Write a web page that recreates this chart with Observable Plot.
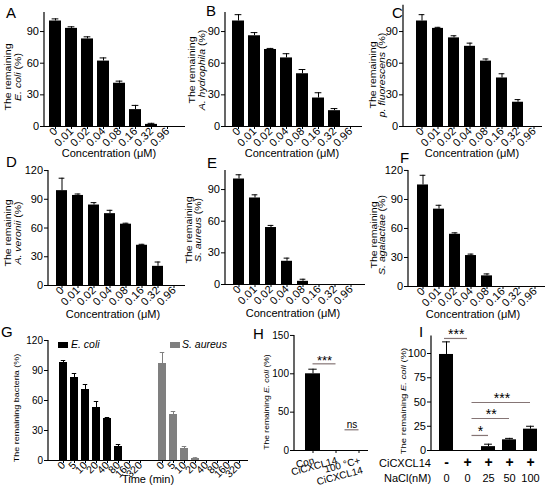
<!DOCTYPE html>
<html><head><meta charset="utf-8">
<script src="https://cdn.jsdelivr.net/npm/d3@7"></script>
<script src="https://cdn.jsdelivr.net/npm/@observablehq/plot@0.6"></script>
<style>
body{margin:0;background:#fff;}
#fig{position:relative;width:550px;height:498px;overflow:hidden;background:#fff;}
#fig svg{position:absolute;}
</style></head><body><div id="fig"></div>
<script>
// ---------- data ----------
const concentrations = ["0","0.01","0.02","0.04","0.08","0.16","0.32","0.96"];
const ecoliMean = [100,93,83,62,41,16,2,0];
const ecoliErr = [2,1.5,2,3,2,4,1,0];
const hydrophilaMean = [100,86,73,65,50,27,15,0];
const hydrophilaErr = [6,3,1,4,4,5,2,0];
const fluorescensMean = [100,93,84,76,62,46,23,0];
const fluorescensErr = [6,1,2,3,2,4,2.5,0];
const veroniiMean = [99,94,84,75,64,42,20,0];
const veroniiErr = [13,1.5,2.5,3.5,1,1,4.5,0];
const aureusMean = [100,82,54,22,3,0,0,0];
const aureusErr = [4,3,2,3,2,0,0,0];
const agalactiaeMean = [105,80,54,32,11,0,0,0];
const agalactiaeErr = [10,4,1.5,1.5,2,0,0,0];
const times = ["0","5","10","20","40","80","160","320"];
const timeEcoliMean = [98,83,71,53,42,14,0,0];
const timeEcoliErr = [2,4,5,6,1,2,0,0];
const timeAureusMean = [97,46,12,2,0,0,0,0];
const timeAureusErr = [11,3,2,0.8,0,0,0,0];
const heatGroups = ["Con","CiCXCL14","100 °C+\nCiCXCL14"];
const heatMean = [100,0,0];
const heatErr = [6,0,0];
const heatSig = [{a:0,b:1,y:113,label:"***"},{a:1,b:2,y:27,label:"ns"}];
const naclCiCXCL14 = ["-","+","+","+","+"];
const naclConc = ["0","0","25","50","100"];
const naclMean = [99,0,4,11,22];
const naclErr = [13,0,2.5,1.5,3];
const naclSig = [{a:0,b:1,y:115.5,label:"***"},{a:1,b:2,y:15.5,label:"*"},{a:1,b:3,y:33,label:"**"},{a:1,b:4,y:49.5,label:"***"}];

// ---------- helpers ----------
const NARROW = '"Liberation Sans Narrow","Liberation Sans",Arial,sans-serif';
const SANS = '"Liberation Sans",Arial,sans-serif';
const fig = document.getElementById("fig");

function sigMarks(cats, sig, offs, step, bw, fs) {
  return sig.flatMap((s, j) => {
    const off = offs[j];
    const dx = ((s.b - s.a) * step + off) / 2;
    return [
      Plot.ruleY([s], {x1: d => cats[d.a], x2: d => cats[d.b], y: "y", stroke: "#857575", strokeWidth: 1.2,
        insetLeft: bw / 2 + off, insetRight: bw / 2}),
      Plot.text([s], {x: d => cats[d.a], y: "y", text: "label", dx, dy: s.label === "ns" ? -2 : 1,
        lineAnchor: "bottom", fontSize: s.label === "ns" ? 10 : fs, fill: "black", fontFamily: NARROW})
    ];
  });
}

function panel(p) {
  const n = p.cats.length;
  const step = (p.lastC - p.firstC) / (n - 1);
  const pin = 1 - p.barW / step;
  const rows = p.cats.map((c, i) => ({c, v: p.mean[i], e: p.err[i], f: p.fill ? p.fill[i] : "black"}));
  const rowsB = rows.filter(d => d.v > 0);
  const rowsE = rows.filter(d => d.e > 0);
  const ml = p.x0 - p.left, mr = p.left + p.width - p.x1;
  const mt = p.yBase - p.yMax * p.k - p.top, mb = p.top + p.height - p.yBase;
  const cap = p.barW * 0.22;
  const marks = [
    Plot.barY(rowsB, {x: "c", y: "v", fill: "f"}),
    Plot.ruleX(rowsE, {x: "c", y1: "v", y2: d => d.v + d.e, stroke: "f", strokeWidth: 1}),
    Plot.tickY(rowsE, {x: "c", y: d => d.v + d.e, stroke: "f", strokeWidth: 1, insetLeft: cap, insetRight: cap}),
    Plot.ruleY([0], {stroke: "black", strokeWidth: 1.2}),
    Plot.axisY({ticks: p.yTicks, tickSize: 4, tickPadding: 1.5, fontSize: p.yFont, tickFormat: d => String(d),
      fontFamily: NARROW, label: null})
  ];
  if (p.xAxes) marks.push(...p.xAxes);
  else marks.push(Plot.axisX({ticks: p.xTicks || p.cats, tickSize: p.xTickSize ?? 3, tickPadding: p.xPad ?? 0,
    tickRotate: p.rot, fontSize: p.xFont, tickFormat: p.xFormat || (d => d), fontFamily: p.xFamily || SANS, label: null,
    ...(p.xLineAnchor ? {lineAnchor: p.xLineAnchor} : {})}));
  if (p.extra) marks.push(...p.extra(step, p.barW));
  const plot = Plot.plot({
    width: p.width, height: p.height,
    marginLeft: ml, marginRight: mr, marginTop: mt, marginBottom: mb,
    x: {type: "band", domain: p.cats, range: [p.firstC - p.left - step / 2, p.lastC - p.left + step / 2],
        paddingInner: pin, paddingOuter: pin / 2, align: 0.5, label: null},
    y: {domain: [0, p.yMax], range: [p.yBase - p.top, p.yBase - p.top - p.yMax * p.k], label: null},
    color: {type: "identity"},
    style: {fontFamily: NARROW, fontSize: "11px", color: "black", background: "none", overflow: "visible", maxWidth: "none"},
    marks
  });
  d3.select(plot).append("line").attr("x1", ml).attr("x2", ml).attr("y1", mt).attr("y2", p.height - mb)
    .attr("stroke", "black").attr("stroke-width", 1.2);
  plot.style.position = "absolute";
  plot.style.left = p.left + "px";
  plot.style.top = p.top + "px";
  fig.appendChild(plot);
}

const concBase = {cats: concentrations, rot: -45, xFont: 11, yFont: 11, barW: 12};

panel({...concBase, left: 0, top: 0, width: 188, height: 160, x0: 44, x1: 185, yBase: 126, k: 1.055, yMax: 108,
  firstC: 55, lastC: 167, mean: ecoliMean, err: ecoliErr, yTicks: [0,30,60,90]});
panel({...concBase, left: 182, top: 0, width: 182, height: 160, x0: 225, x1: 362, yBase: 126, k: 1.055, yMax: 108,
  firstC: 236, lastC: 351, mean: hydrophilaMean, err: hydrophilaErr, yTicks: [0,30,60,90]});
panel({...concBase, left: 364, top: 0, width: 186, height: 160, x0: 403, x1: 542, yBase: 126, k: 1.055, yMax: 115,
  firstC: 419, lastC: 537, mean: fluorescensMean, err: fluorescensErr, yTicks: [0,30,60,90]});
panel({...concBase, left: 0, top: 160, width: 188, height: 160, x0: 48, x1: 185, yBase: 285, k: 0.958, yMax: 120,
  firstC: 59, lastC: 177, mean: veroniiMean, err: veroniiErr, yTicks: [0,30,60,90,120]});
panel({...concBase, left: 182, top: 160, width: 184, height: 160, x0: 225, x1: 365, yBase: 284, k: 1.055, yMax: 108,
  firstC: 236, lastC: 354, mean: aureusMean, err: aureusErr, yTicks: [0,30,60,90]});
panel({...concBase, left: 364, top: 160, width: 186, height: 160, x0: 408, x1: 545, yBase: 286, k: 0.967, yMax: 120,
  firstC: 419.5, lastC: 537, mean: agalactiaeMean, err: agalactiaeErr, yTicks: [0,30,60,90,120]});

// G: time course
const gCats = [...times.map(t => "E|" + t), "gap", ...times.map(t => "S|" + t)];
panel({cats: gCats, rot: -45, xFont: 10.5, yFont: 10, barW: 8, xTickSize: 3,
  left: 0, top: 320, width: 250, height: 178, x0: 48, x1: 248, yBase: 460, k: 1.0, yMax: 120,
  firstC: 58, lastC: 244,
  mean: [...timeEcoliMean, null, ...timeAureusMean], err: [...timeEcoliErr, 0, ...timeAureusErr],
  fill: [...times.map(() => "black"), "white", ...times.map(() => "#7f7f7f")],
  xTicks: gCats.filter(c => c !== "gap"), xFormat: d => d.split("|")[1], yTicks: [0,30,60,90,120]});

// H: heat
panel({cats: heatGroups, rot: -15, xFont: 10, yFont: 10, barW: 15, xTickSize: 3, xPad: 3, xFamily: NARROW, xLineAnchor: "top",
  left: 250, top: 320, width: 122, height: 178, x0: 294, x1: 368, yBase: 450, k: 0.767, yMax: 150,
  firstC: 312, lastC: 358, mean: heatMean, err: heatErr, yTicks: [0,50,100,150],
  extra: (step, bw) => sigMarks(heatGroups, heatSig, [0, 9], step, bw, 13)});

// I: NaCl
const iCats = naclConc.map((c, i) => i + "");
panel({cats: iCats, yFont: 11, barW: 14,
  left: 372, top: 320, width: 178, height: 178, x0: 431, x1: 537, yBase: 450, k: 0.97, yMax: 118,
  firstC: 445, lastC: 531, mean: naclMean, err: naclErr, yTicks: [0,25,50,75,100],
  xAxes: [
    Plot.axisX({tickSize: 0, tickPadding: 7, fontSize: 14, fontWeight: "bold", tickFormat: d => naclCiCXCL14[+d], fontFamily: SANS, label: null}),
    Plot.axisX({tickSize: 0, tickPadding: 24, fontSize: 11, tickFormat: d => naclConc[+d], fontFamily: NARROW, label: null})
  ],
  extra: (step, bw) => sigMarks(iCats, naclSig, [-2, 4.5, 4.5, 4.5], step, bw, 14)});

// ---------- overlay text ----------
const ov = d3.select(fig).append("svg").attr("width", 550).attr("height", 498)
  .style("left", "0px").style("top", "0px").style("pointer-events", "none");

function txt(x, y, parts, {size = 11, anchor = "middle", rotate = 0, family = NARROW, sx = 1} = {}) {
  const t = ov.append("text")
    .attr("transform", `translate(${x},${y}) rotate(${rotate}) scale(1,${sx})`)
    .attr("text-anchor", anchor).attr("font-size", size).attr("font-family", family).attr("fill", "black");
  for (const p of [].concat(parts)) {
    if (typeof p === "string") t.append("tspan").text(p);
    else t.append("tspan").attr("font-style", "italic").text(p.i);
  }
}

// panel letters
[["A",6,18],["B",206,16],["C",392,18],["D",6,167],["E",207,168],["F",400,163],["G",1,337],["H",253,339],["I",419,337]]
  .forEach(([l, x, y]) => txt(x, y, l, {size: 15, anchor: "start"}));

// x titles
[[109,157],[292,157],[472,157],[113,318],[293,317],[473,318]].forEach(([x, y]) => txt(x, y, "Concentration (μM)"));
txt(148, 483, "Time (min)");

// y titles (two lines)
const yTitles = [
  [11.2, 21.2, 77, "E. coli"], [195, 205, 70, "A. hydrophila"], [376, 385, 75, "p. fluorescens"],
  [11.2, 21.2, 233, "A. veronii"], [191.5, 200.5, 230, "S. aureus"], [376.5, 385, 235, "S. agalactiae"]
];
yTitles.forEach(([x1, x2, cy, sp]) => {
  txt(x1, cy, "The remaining", {size: 10.5, rotate: -90, family: SANS, sx: 0.85});
  txt(x2, cy, [{i: sp}, " (%)"], {size: 10.5, rotate: -90, family: SANS, sx: 0.85});
});
txt(18.5, 408, "The remaining bacteria (%)", {size: 9, rotate: -90, family: SANS, sx: 0.85});
txt(268.5, 402, ["The remaining ", {i: "E. coli"}, " (%)"], {size: 8.5, rotate: -90, family: SANS, sx: 0.85});
txt(405.5, 401, ["The remaining ", {i: "E. coli"}, " (%)"], {size: 9.5, rotate: -90, family: SANS, sx: 0.85});

// G legend
ov.append("rect").attr("x", 58).attr("y", 342).attr("width", 10).attr("height", 6).attr("fill", "black");
txt(71, 348, [{i: "E. coli"}], {size: 10.5, anchor: "start"});
ov.append("rect").attr("x", 170).attr("y", 342).attr("width", 10).attr("height", 6).attr("fill", "#7f7f7f");
txt(182, 348, [{i: "S. aureus"}], {size: 10.5, anchor: "start"});

// I row labels
txt(379, 467, "CiCXCL14", {size: 11, anchor: "start"});
txt(384, 482, "NaCl(nM)", {size: 11, anchor: "start"});
</script></body></html>
